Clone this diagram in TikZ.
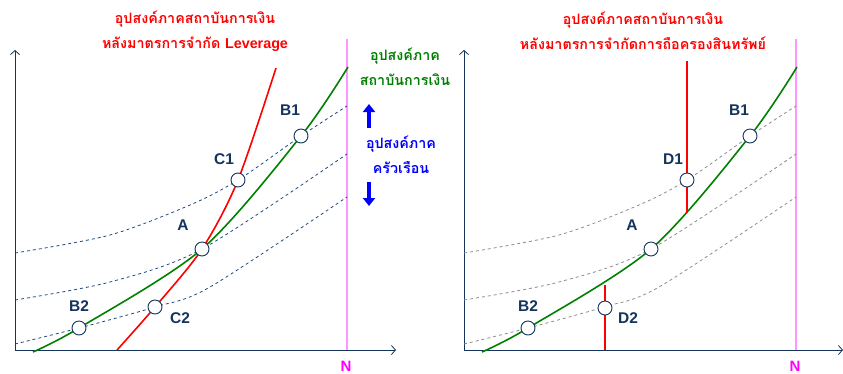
\documentclass[tikz,border=0pt]{standalone}
\usepackage{fontspec}
\setmainfont{Liberation Sans}
\newfontfamily\thaifont[Script=Thai]{Loma}
\usetikzlibrary{arrows.meta,positioning}
\definecolor{ChartNavy}{RGB}{20,52,92}
\definecolor{ChartDash}{RGB}{31,73,125}
\definecolor{ChartGray}{RGB}{140,140,140}
\definecolor{ChartGreen}{RGB}{0,128,0}
\definecolor{ChartRed}{RGB}{255,0,0}
\definecolor{ChartPink}{RGB}{255,150,255}
\definecolor{ChartMagenta}{RGB}{255,0,255}
\definecolor{ChartBlue}{RGB}{0,0,255}

\begin{document}
\begin{tikzpicture}[x=1pt,y=-1pt,
  pt/.style={circle,draw=ChartNavy,fill=white,line width=0.9pt,minimum size=14pt,inner sep=0pt},
  lbl/.style={font=\fontsize{15.5}{16}\selectfont\bfseries,text=ChartNavy},
  nlbl/.style={font=\fontsize{15}{16}\selectfont\bfseries,text=ChartMagenta,inner sep=0pt},
  ttl/.style={font=\fontsize{14.3}{25}\selectfont\bfseries\thaifont,align=center},
  axis/.style={ChartNavy,line width=0.8pt,-{Straight Barb[length=4pt,width=9pt]}},
  curve/.style={line width=1.6pt},
  hh/.style={dash pattern=on 3pt off 3pt,line width=0.8pt},
  shift arrow/.style={ChartBlue,line width=3.5pt,-{Triangle[length=8pt,width=12pt]}}]
\useasboundingbox (0,0) rectangle (843,373);

% left panel: leverage limit
\draw[axis] (15,350) -- (15,50);
\draw[axis] (15,350) -- (396,350);
\draw[ChartPink,line width=1.5pt] (347,39) -- (347,350);
\node[nlbl] (nL) at (346,366) {N};
\draw[hh,ChartDash] plot[smooth] coordinates {(15,253) (110,235) (190,205) (238,180) (301,136) (347,106)};
\draw[hh,ChartDash] plot[smooth] coordinates {(15,300) (110,282) (202,249) (347,154)};
\draw[hh,ChartDash] plot[smooth] coordinates {(15,344) (79,328) (155,307) (210,287) (347,197)};
\draw[curve,ChartGreen] plot[smooth] coordinates {(33,352) (79,328) (202,249) (301,136) (348,67)};
\draw[curve,ChartRed] plot[smooth] coordinates {(117,350) (155,307) (202,249) (238,180) (276,68)};
\node[pt] (B1) at (301,136) {};
\node[pt] (C1) at (238,180) {};
\node[pt] (A) at (202,249) {};
\node[pt] (C2) at (155,307) {};
\node[pt] (B2) at (79,328) {};
\node[lbl] (lB1) at (290,110) {B1};
\node[lbl] (lC1) at (224,159) {C1};
\node[lbl] (lA) at (183,225) {A};
\node[lbl] (lC2) at (180,318) {C2};
\node[lbl] (lB2) at (79,306) {B2};
\node[ttl,text=ChartRed] (tL) at (195,31) {อุปสงค์ภาคสถาบันการเงิน\\หลังมาตรการจำกัด {\fontspec{Liberation Sans}Leverage}};

% legend between the panels
\node[ttl,text=ChartGreen] (gLbl) at (405,67) {อุปสงค์ภาค\\สถาบันการเงิน};
\node[ttl,text=ChartBlue] (bLbl) at (401,155) {อุปสงค์ภาค\\ครัวเรือน};
\draw[shift arrow] (369,128) -- (369,104);
\draw[shift arrow] (369,182) -- (369,206);

% right panel: asset holding limit
\begin{scope}[xshift=449pt]
\draw[axis] (15,350) -- (15,50);
\draw[axis] (15,350) -- (394,350);
\draw[ChartPink,line width=1.5pt] (347,39) -- (347,350);
\node[nlbl] (nR) at (346,366) {N};
\draw[hh,ChartGray] plot[smooth] coordinates {(15,253) (110,235) (190,205) (238,180) (301,136) (347,106)};
\draw[hh,ChartGray] plot[smooth] coordinates {(15,300) (110,282) (202,249) (347,154)};
\draw[hh,ChartGray] plot[smooth] coordinates {(15,344) (79,328) (155,307) (210,287) (347,197)};
\draw[curve,ChartGreen] plot[smooth] coordinates {(33,352) (79,328) (202,249) (301,136) (348,67)};
\draw[curve,ChartRed] (238,61) -- (238,213);
\draw[curve,ChartRed] (156,285) -- (156,350);
\node[pt] (rB1) at (301,136) {};
\node[pt] (D1) at (238,180) {};
\node[pt] (rA) at (202,249) {};
\node[pt] (D2) at (156,308) {};
\node[pt] (rB2) at (79,328) {};
\node[lbl] (lrB1) at (290,110) {B1};
\node[lbl] (lD1) at (224,159) {D1};
\node[lbl] (lrA) at (183,225) {A};
\node[lbl] (lD2) at (179,318) {D2};
\node[lbl] (lrB2) at (79,306) {B2};
\node[ttl,text=ChartRed] (tR) at (194,31) {อุปสงค์ภาคสถาบันการเงิน\\หลังมาตรการจำกัดการถือครองสินทรัพย์};
\end{scope}
\end{tikzpicture}
\end{document}
